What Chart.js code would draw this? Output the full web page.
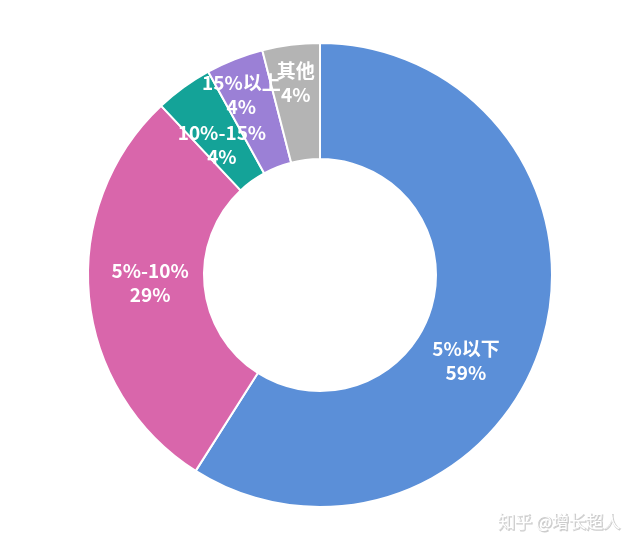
<!DOCTYPE html>
<html>
<head>
<meta charset="utf-8">
<script src="https://cdn.jsdelivr.net/npm/chart.js@4/dist/chart.umd.min.js"></script>
<style>
  html, body { margin: 0; padding: 0; background: #ffffff; }
  #wrap { position: relative; width: 640px; height: 553px; }
</style>
</head>
<body>
<div id="wrap"><canvas id="c" width="640" height="553"></canvas></div>
<script>
// ---- data ----
const categories = ['5%以下', '5%-10%', '10%-15%', '15%以上', '其他'];
const shares = [59, 29, 4, 4, 4];
const shareLabels = ['59%', '29%', '4%', '4%', '4%'];
const sliceColors = ['#5b8fd8', '#d966ab', '#14a398', '#9b80d6', '#b4b4b4'];

// label placement styling: angle offset (deg) and radial fraction within the ring
const labelAngleOffset = [14.3, 2.7, -1, -2, 0];
const labelRadialFrac = [0.46, 0.466, 0.405, 0.694, 0.668];

const labelPlugin = {
  id: 'sliceLabels',
  afterDatasetsDraw(chart) {
    const ctx = chart.ctx;
    const meta = chart.getDatasetMeta(0);
    ctx.save();
    ctx.fillStyle = '#ffffff';
    ctx.textAlign = 'center';
    ctx.textBaseline = 'middle';
    ctx.font = 'bold 19px "Noto Sans CJK SC", "Noto Sans", sans-serif';
    meta.data.forEach((arc, i) => {
      const p = arc.getProps(['x', 'y', 'startAngle', 'endAngle', 'innerRadius', 'outerRadius'], true);
      const mid = (p.startAngle + p.endAngle) / 2 + labelAngleOffset[i] * Math.PI / 180;
      const r = p.innerRadius + labelRadialFrac[i] * (p.outerRadius - p.innerRadius);
      const cx = p.x + Math.cos(mid) * r;
      const cy = p.y + Math.sin(mid) * r;
      ctx.fillText(categories[i], cx, cy - 12);
      ctx.fillText(shareLabels[i], cx, cy + 12);
    });
    // watermark
    ctx.font = '17px "Noto Sans CJK SC", sans-serif';
    ctx.textAlign = 'right';
    ctx.strokeStyle = 'rgba(170,170,170,0.6)';
    ctx.lineWidth = 1;
    ctx.strokeText('知乎 @增长超人', 621, 523);
    ctx.fillStyle = '#ffffff';
    ctx.fillText('知乎 @增长超人', 620, 522);
    ctx.restore();
  }
};

new Chart(document.getElementById('c'), {
  type: 'doughnut',
  data: {
    labels: categories,
    datasets: [{
      data: shares,
      backgroundColor: sliceColors,
      borderColor: '#ffffff',
      borderWidth: 2,
      hoverOffset: 0
    }]
  },
  options: {
    responsive: false,
    animation: false,
    cutout: '50%',
    layout: { padding: { top: 42, bottom: 45, left: 0, right: 0 } },
    plugins: {
      legend: { display: false },
      tooltip: { enabled: false }
    }
  },
  plugins: [labelPlugin]
});
</script>
</body>
</html>
